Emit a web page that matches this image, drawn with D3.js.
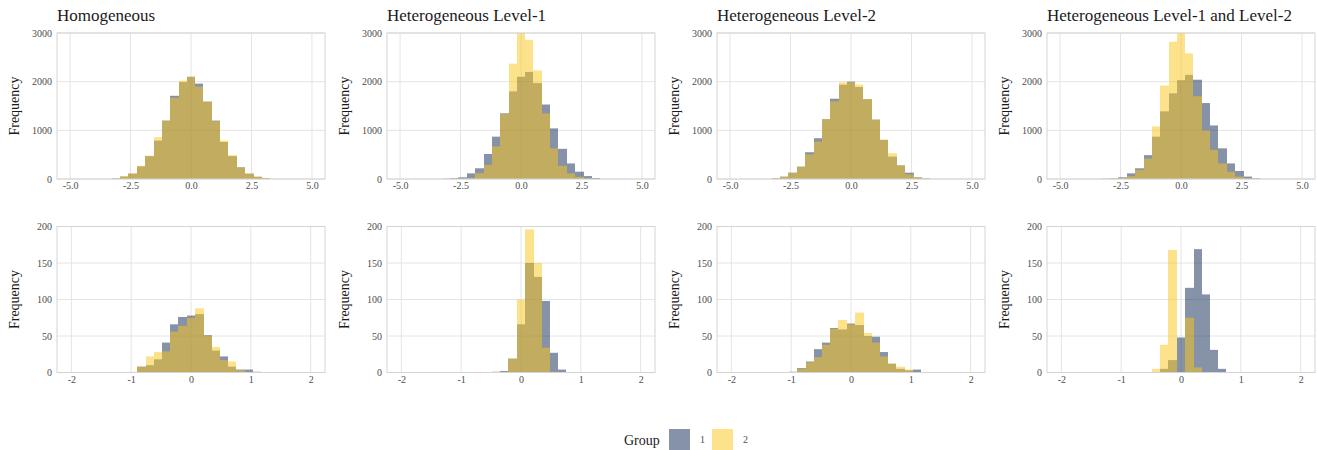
<!DOCTYPE html>
<html>
<head>
<meta charset="utf-8">
<script src="https://cdn.jsdelivr.net/npm/d3@7"></script>
<style>
  body { margin: 0; background: #fff; }
  svg text { font-family: "Liberation Serif", "DejaVu Serif", serif !important; }
</style>
</head>
<body>
<div id="chart-area"></div>
<script>
// panel titles (top row only)
const titles = ["Homogeneous", "Heterogeneous Level-1", "Heterogeneous Level-2", "Heterogeneous Level-1 and Level-2"];
const groups = ["1", "2"];

// histogram bins (centres)
const binsTop = [-3.10, -2.76, -2.41, -2.07, -1.72, -1.38, -1.03, -0.69, -0.34, 0, 0.34, 0.69, 1.03, 1.38, 1.72, 2.07, 2.41, 2.76, 3.10];
const binWidthTop = 0.345;
const binsBottom = [-0.97, -0.83, -0.69, -0.55, -0.41, -0.28, -0.14, 0, 0.14, 0.28, 0.41, 0.55, 0.69, 0.83, 0.97, 1.10];
const binWidthBottom = 0.138;

// tick labels
const xTicksTop = [-5, -2.5, 0, 2.5, 5];
const xTicksBottom = [-2, -1, 0, 1, 2];
const yTicksTop = [0, 1000, 2000, 3000];
const yTicksBottom = [0, 50, 100, 150, 200];

// counts, top row
const homTopG1 = [10, 50, 110, 260, 470, 790, 1200, 1710, 1990, 2100, 1960, 1590, 1200, 760, 470, 240, 110, 45, 14];
const homTopG2 = [8, 60, 115, 270, 480, 860, 1200, 1670, 2020, 2100, 1900, 1590, 1190, 790, 490, 235, 110, 50, 12];
const het1TopG1 = [5, 15, 34, 116, 220, 514, 870, 1350, 1800, 2100, 2200, 1970, 1530, 1040, 620, 320, 150, 60, 20];
const het1TopG2 = [0, 3, 8, 20, 120, 290, 670, 1340, 2370, 3000, 2860, 2230, 1350, 630, 270, 115, 45, 12, 3];
const het2TopG1 = [14, 48, 130, 254, 550, 838, 1230, 1650, 1938, 2000, 1890, 1640, 1220, 804, 460, 280, 130, 34, 10];
const het2TopG2 = [12, 45, 125, 250, 508, 770, 1230, 1595, 1986, 1990, 1940, 1640, 1220, 804, 530, 280, 96, 30, 8];
const het12TopG1 = [5, 10, 35, 116, 220, 490, 870, 1390, 1760, 2030, 2140, 2040, 1560, 1100, 630, 320, 165, 50, 12];
const het12TopG2 = [3, 5, 20, 60, 190, 420, 1080, 1920, 2820, 3000, 2580, 1700, 1000, 600, 320, 150, 50, 10, 2];

// counts, bottom row
const homBotG1 = [0, 8, 10, 18, 41, 66, 76, 78, 80, 51, 30, 22, 8, 4, 4, 1];
const homBotG2 = [1, 8, 22, 28, 29, 56, 64, 75, 88, 50, 35, 17, 15, 3, 1, 0];
const het1BotG1 = [0, 0, 0, 0, 1, 2, 19, 66, 150, 131, 98, 27, 4, 0, 0, 0];
const het1BotG2 = [0, 0, 0, 0, 0, 0, 19, 100, 196, 150, 34, 1, 0, 0, 0, 0];
const het2BotG1 = [1, 6, 15, 32, 41, 61, 59, 67, 65, 50, 49, 28, 12, 5, 3, 4];
const het2BotG2 = [0, 5, 14, 21, 38, 60, 72, 66, 82, 54, 41, 22, 12, 8, 4, 0];
const het12BotG1 = [0, 0, 0, 0, 0, 5, 17, 48, 116, 169, 107, 31, 5, 0, 0, 0];
const het12BotG2 = [0, 0, 0, 0, 5, 38, 168, 0, 75, 7, 0, 0, 0, 0, 0, 0];

const rows = [
  { bins: binsTop, bw: binWidthTop, xTicks: xTicksTop, yTicks: yTicksTop, xDom: [-5.54, 5.54], yMax: 3000,
    fmt: d3.format(".1f"),
    series: [[homTopG1, homTopG2], [het1TopG1, het1TopG2], [het2TopG1, het2TopG2], [het12TopG1, het12TopG2]] },
  { bins: binsBottom, bw: binWidthBottom, xTicks: xTicksBottom, yTicks: yTicksBottom, xDom: [-2.24, 2.24], yMax: 200,
    fmt: d3.format("d"),
    series: [[homBotG1, homBotG2], [het1BotG1, het1BotG2], [het2BotG1, het2BotG2], [het12BotG1, het12BotG2]] }
];

const colors = { "1": "#0d254f", "2": "#fbc519" };
const width = 1317, height = 450;
const panelW = 268, panelH = 146;
const colLeft = [57, 387, 717, 1047];
const rowTop = [33, 226.5];

const svg = d3.select("#chart-area")
  .append("svg")
  .attr("width", width)
  .attr("height", height);

rows.forEach(function(row, r) {
  // shared bin edges so neighbouring bars touch
  const bins = row.bins;
  const leftEdge = (i) => i === 0 ? bins[0] - row.bw / 2 : (bins[i - 1] + bins[i]) / 2;
  const rightEdge = (i) => i === bins.length - 1 ? bins[i] + row.bw / 2 : (bins[i] + bins[i + 1]) / 2;

  row.series.forEach(function(pair, c) {
    const g = svg.append("g")
      .attr("transform", "translate(" + colLeft[c] + "," + rowTop[r] + ")");

    const x = d3.scaleLinear().domain(row.xDom).range([0, panelW]);
    const y = d3.scaleLinear().domain([0, row.yMax]).range([panelH, 0]);

    // grid
    g.selectAll(".vgrid").data(row.xTicks).enter().append("line")
      .attr("x1", d => x(d)).attr("x2", d => x(d))
      .attr("y1", 0).attr("y2", panelH)
      .attr("stroke", "#e4e4e4").attr("stroke-width", 1);
    g.selectAll(".hgrid").data(row.yTicks).enter().append("line")
      .attr("x1", 0).attr("x2", panelW)
      .attr("y1", d => y(d)).attr("y2", d => y(d))
      .attr("stroke", "#e4e4e4").attr("stroke-width", 1);

    // bars, group 1 first, group 2 on top
    pair.forEach(function(vals, gi) {
      const data = bins.map((b, i) => ({ i: i, v: vals[i] })).filter(d => d.v > 0);
      g.selectAll(".bar" + gi).data(data).enter().append("rect")
        .attr("x", d => Math.round(x(leftEdge(d.i))))
        .attr("width", d => Math.round(x(rightEdge(d.i))) - Math.round(x(leftEdge(d.i))))
        .attr("y", d => y(d.v))
        .attr("height", d => panelH - y(d.v))
        .attr("fill", colors[groups[gi]])
        .attr("fill-opacity", 0.5);
    });

    // border
    g.append("rect")
      .attr("width", panelW).attr("height", panelH)
      .attr("fill", "none").attr("stroke", "#d4d4d4").attr("stroke-width", 1);

    // axes
    const xAxis = g.append("g")
      .attr("transform", "translate(0," + panelH + ")")
      .call(d3.axisBottom(x).tickValues(row.xTicks).tickSize(0).tickPadding(3).tickFormat(row.fmt));
    const yAxis = g.append("g")
      .call(d3.axisLeft(y).tickValues(row.yTicks).tickSize(0).tickPadding(5).tickFormat(d3.format("d")));
    [xAxis, yAxis].forEach(function(a) {
      a.attr("font-family", null);
      a.select(".domain").remove();
      a.selectAll("text")
        .style("font-family", "'Liberation Serif', serif")
        .attr("font-size", "10px")
        .attr("fill", "#4d4d4d");
    });
    xAxis.selectAll("text").text(d => row.fmt(d).replace("−", "-"));

    // y label
    g.append("text")
      .attr("transform", "rotate(-90)")
      .attr("x", -panelH / 2)
      .attr("y", -38)
      .attr("text-anchor", "middle")
      .attr("font-size", "14px")
      .attr("fill", "#1a1a1a")
      .text("Frequency");

    // title
    if (r === 0) {
      g.append("text")
        .attr("x", 0)
        .attr("y", -12)
        .attr("font-size", "17px")
        .attr("fill", "#1a1a1a")
        .text(titles[c]);
    }
  });
});

// legend
const legend = svg.append("g");
legend.append("text")
  .attr("x", 624).attr("y", 445)
  .attr("font-size", "14px")
  .attr("fill", "#1a1a1a")
  .text("Group");
const keyX = [669, 712];
groups.forEach(function(gr, i) {
  legend.append("rect")
    .attr("x", keyX[i]).attr("y", 429)
    .attr("width", 21).attr("height", 21)
    .attr("fill", colors[gr]).attr("fill-opacity", 0.5);
  legend.append("text")
    .attr("x", keyX[i] + 31).attr("y", 443)
    .attr("font-size", "10px")
    .attr("fill", "#4d4d4d")
    .text(gr);
});
</script>
</body>
</html>
